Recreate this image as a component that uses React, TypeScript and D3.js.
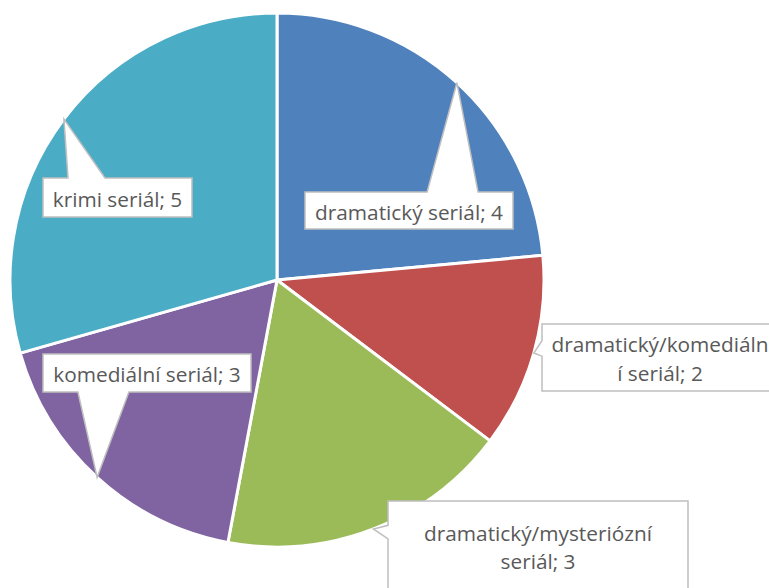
import React from 'react';
import * as d3 from 'd3';

// data
const categories = [
  'dramatický seriál',
  'dramatický/komediální seriál',
  'dramatický/mysteriózní seriál',
  'komediální seriál',
  'krimi seriál',
];
const values = [4, 2, 3, 3, 5];
const labelLines = [
  ['dramatický seriál; 4'],
  ['dramatický/komediáln', 'í seriál; 2'],
  ['dramatický/mysteriózní', 'seriál; 3'],
  ['komediální seriál; 3'],
  ['krimi seriál; 5'],
];
const colors = ['#4f81bd', '#c0504d', '#9bbb59', '#8064a2', '#4bacc6'];

// callout boxes: position, size, side of the pointer and where its base sits (fractions)
const callouts = [
  { x: 305, y: 192, w: 208, h: 37, side: 'top', b0: 0.587, b1: 0.832 },
  { x: 542, y: 324, w: 236, h: 67, side: 'left', b0: 0.25, b1: 0.48 },
  { x: 388, y: 501, w: 300, h: 90, side: 'left', b0: 0.27, b1: 0.42 },
  { x: 43, y: 354, w: 208, h: 38, side: 'bottom', b0: 0.168, b1: 0.413 },
  { x: 43, y: 178, w: 149, h: 39, side: 'top', b0: 0.168, b1: 0.416 },
];

const width = 769;
const height = 588;
const cx = 277;
const cy = 280;
const radius = 267;

const calloutPath = (c, tip) => {
  const x0 = c.x, y0 = c.y, x1 = c.x + c.w, y1 = c.y + c.h;
  if (c.side === 'top') {
    const a = x0 + c.w * c.b0, b = x0 + c.w * c.b1;
    return `M${x0},${y0}L${a},${y0}L${tip[0]},${tip[1]}L${b},${y0}L${x1},${y0}L${x1},${y1}L${x0},${y1}Z`;
  }
  if (c.side === 'bottom') {
    const a = x0 + c.w * c.b0, b = x0 + c.w * c.b1;
    return `M${x0},${y0}L${x1},${y0}L${x1},${y1}L${b},${y1}L${tip[0]},${tip[1]}L${a},${y1}L${x0},${y1}Z`;
  }
  const a = y0 + c.h * c.b0, b = y0 + c.h * c.b1;
  return `M${x0},${y0}L${x1},${y0}L${x1},${y1}L${x0},${y1}L${x0},${b}L${tip[0]},${tip[1]}L${x0},${a}Z`;
};

export default function App() {
  const pie = d3.pie<number>().sort(null).value(d => d);
  const arcs = pie(values);
  const arc = d3.arc<d3.PieArcDatum<number>>().innerRadius(0).outerRadius(radius);
  // pointer tips sit on the rim at each slice's middle angle
  const rim = d3.arc<d3.PieArcDatum<number>>().innerRadius(radius).outerRadius(radius);

  return (
    <div style={{ position: 'absolute', left: 0, top: 0 }}>
      <svg width={width} height={height} style={{ display: 'block' }}>
        <rect width={width} height={height} fill="#ffffff" />
        <g transform={`translate(${cx},${cy})`}>
          {arcs.map((a, i) => (
            <path key={categories[i]} d={arc(a)} fill={colors[i]} stroke="#ffffff" strokeWidth={3} strokeLinejoin="round" />
          ))}
        </g>
        {arcs.map((a, i) => {
          const c = callouts[i];
          const [tx, ty] = rim.centroid(a);
          const tip = [cx + tx, cy + ty];
          const lines = labelLines[i];
          const lineH = 28.5;
          const midY = c.y + c.h / 2;
          const firstBase = midY - ((lines.length - 1) * lineH) / 2 + 9;
          return (
            <g key={categories[i]}>
              <path d={calloutPath(c, tip)} fill="#ffffff" stroke="#bfbfbf" strokeWidth={1.5} strokeLinejoin="miter" />
              <text
                x={c.x + c.w / 2}
                textAnchor="middle"
                fontFamily="'Open Sans', Lato, sans-serif"
                fontSize={20.8}
                fill="#595959"
              >
                {lines.map((l, j) => (
                  <tspan key={j} x={c.x + c.w / 2} y={firstBase + j * lineH}>{l}</tspan>
                ))}
              </text>
            </g>
          );
        })}
      </svg>
    </div>
  );
}
